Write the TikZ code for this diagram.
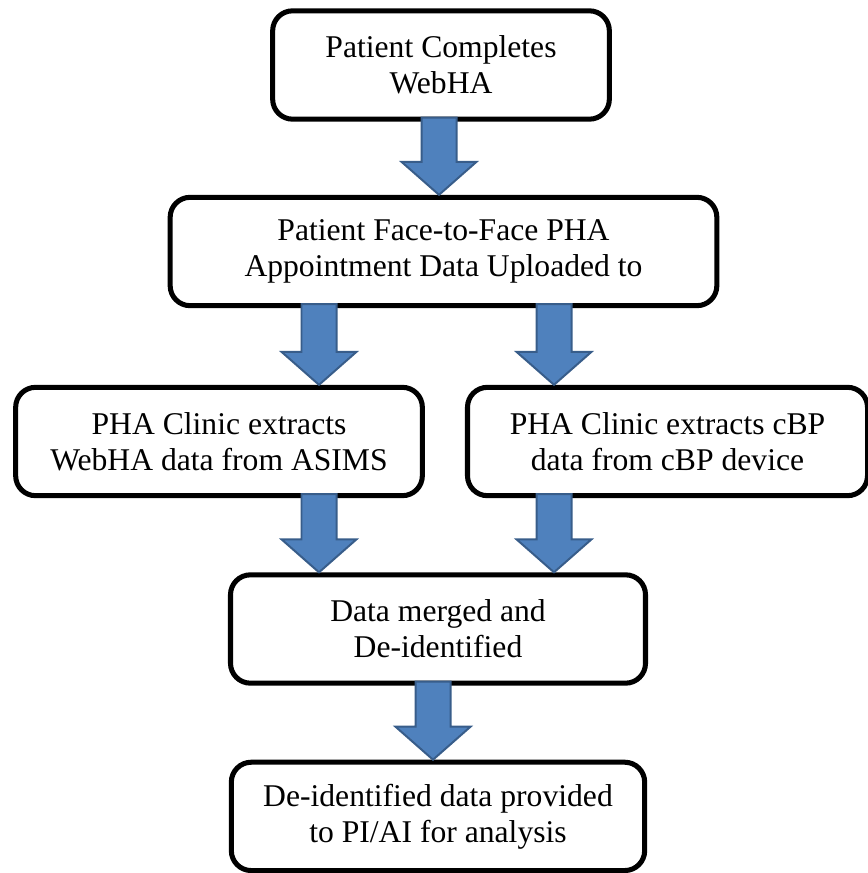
\documentclass[tikz,border=0pt]{standalone}
\usepackage{fontspec}
\setmainfont{Liberation Serif}
\usepackage{tikz}
\usetikzlibrary{positioning, calc}
\definecolor{arrowblue}{RGB}{79, 129, 189}
\definecolor{arrowedge}{RGB}{56, 93, 138}

\begin{document}
\begin{tikzpicture}[
    x=0.03cm, y=-0.03cm,
    stage/.style={draw=black, line width=4.3pt, rounded corners=17pt, fill=white,
                  minimum height=3.25cm, align=center, font=\fontsize{27}{30.7}\selectfont},
    flow/.style={draw=arrowedge, line width=1.7pt, fill=arrowblue, line join=miter,
                 to path={let \p1=(\tikztostart), \p2=(\tikztotarget) in
                   (\x1-0.525cm,\y1+3.4pt) -- (\x1-0.525cm,\y2+0.99cm)
                   -- (\x1-1.125cm,\y2+0.99cm) -- (\x1,\y2)
                   -- (\x1+1.125cm,\y2+0.99cm) -- (\x1+0.525cm,\y2+0.99cm)
                   -- (\x1+0.525cm,\y1+3.4pt) -- cycle}}
]
    \useasboundingbox (0,0) rectangle (867,873);

    % Patient Completes WebHA
    \node[stage, minimum width=10.1cm] (webha) at (441,65) {
        Patient Completes\\
        WebHA
    };

    % Face-to-Face Appointment
    \node[stage, minimum width=16.4cm] (faceToFace) at (443.5,251.5) {
        Patient Face-to-Face PHA\\
        Appointment Data Uploaded to
    };

    % Extraction from ASIMS
    \node[stage, minimum width=12.2cm] (asims) at (219,441.5) {
        PHA Clinic extracts\\
        WebHA data from ASIMS
    };

    % Extraction from cBP device
    \node[stage, minimum width=12cm] (cbp) at (667.5,441.5) {
        PHA Clinic extracts cBP\\
        data from cBP device
    };

    % Merge
    \node[stage, minimum width=12.45cm] (merged) at (438,629) {
        Data merged and\\
        De-identified
    };

    % Analysis
    \node[stage, minimum width=12.4cm, below=2.22cm of merged] (analysis) {
        De-identified data provided\\
        to PI/AI for analysis
    };

    % Arrow columns
    \coordinate (midX) at (439,0);
    \coordinate (leftX) at (319,0);
    \coordinate (rightX) at (554,0);
    \coordinate (lastX) at (433,0);

    % Flows
    \draw[flow] (webha.south -| midX) to (faceToFace.north -| midX);
    \draw[flow] (faceToFace.south -| leftX) to (asims.north -| leftX);
    \draw[flow] (faceToFace.south -| rightX) to (cbp.north -| rightX);
    \draw[flow] (asims.south -| leftX) to (merged.north -| leftX);
    \draw[flow] (cbp.south -| rightX) to (merged.north -| rightX);
    \draw[flow] (merged.south -| lastX) to (analysis.north -| lastX);
\end{tikzpicture}
\end{document}
